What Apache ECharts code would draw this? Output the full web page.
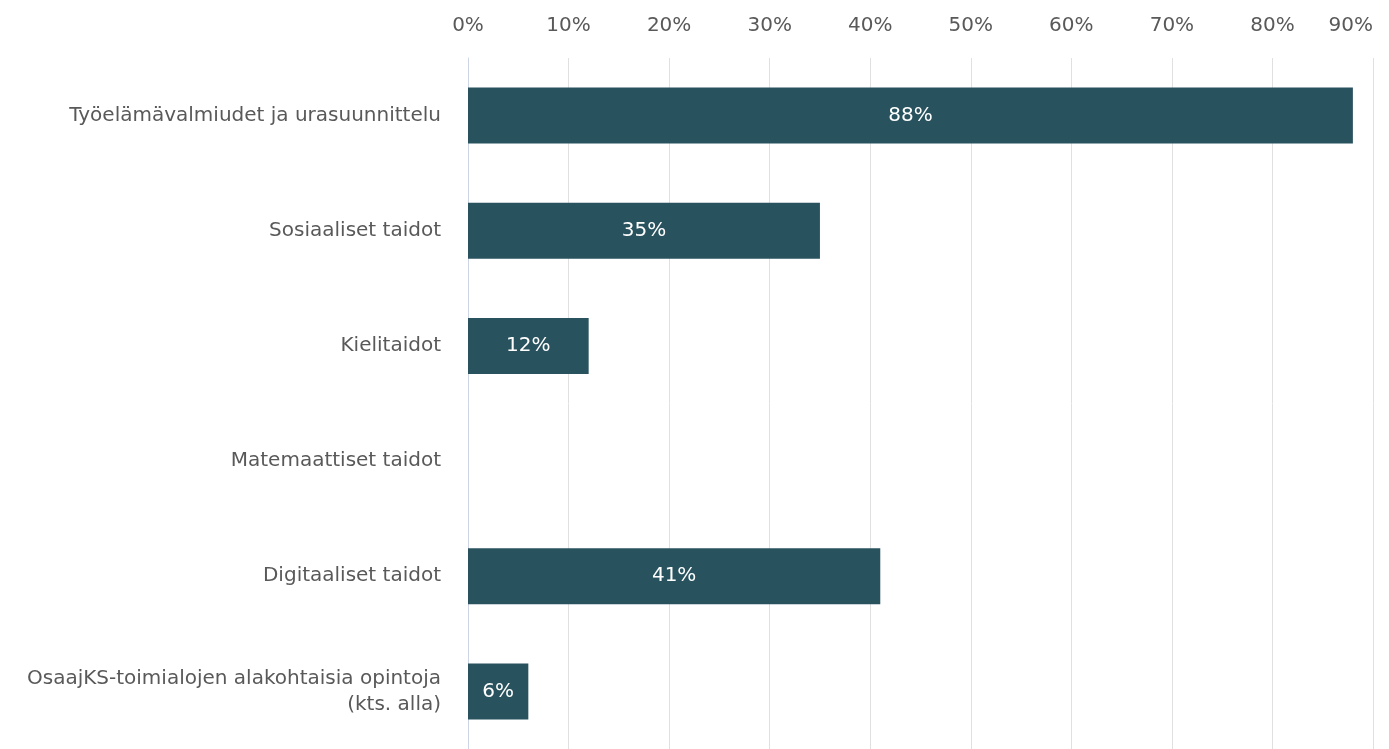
<!DOCTYPE html>
<html>
<head>
<meta charset="utf-8">
<script src="https://cdn.jsdelivr.net/npm/echarts@6/dist/echarts.min.js"></script>
<style>
html, body { margin: 0; padding: 0; background: #fff; }
#chart { width: 1389px; height: 749px; }
</style>
</head>
<body>
<div id="chart"></div>
<script>
const categories = [
    'Työelämävalmiudet ja urasuunnittelu',
    'Sosiaaliset taidot',
    'Kielitaidot',
    'Matemaattiset taidot',
    'Digitaaliset taidot',
    'OsaajKS-toimialojen alakohtaisia opintoja\n(kts. alla)'
]
const values = [88, 35, 12, 0, 41, 6]
const axisTicks = [0, 10, 20, 30, 40, 50, 60, 70, 80, 90]

let myChart = echarts.init(document.getElementById('chart'))
let option = {
    animation: false,
    textStyle: {
        fontFamily: 'DejaVu Sans, sans-serif'
    },
    grid: {
        left: 468,
        right: 16,
        top: 58,
        height: 695
    },
    xAxis: {
        type: 'value',
        position: 'top',
        min: axisTicks[0],
        max: axisTicks[axisTicks.length - 1],
        interval: 10,
        axisLine: { show: false },
        axisTick: { show: false },
        axisLabel: {
            formatter: '{value}%',
            color: '#595959',
            fontSize: 20,
            margin: 22,
            alignMaxLabel: 'right'
        },
        splitLine: {
            lineStyle: { color: '#e0e0e0', width: 1 }
        }
    },
    yAxis: {
        type: 'category',
        data: categories,
        inverse: true,
        axisTick: { show: false },
        axisLine: {
            show: true,
            lineStyle: { color: '#cdd5e6', width: 1 }
        },
        axisLabel: {
            color: '#595959',
            fontSize: 20,
            margin: 27,
            lineHeight: 26,
            align: 'right'
        }
    },
    series: [
        {
            type: 'bar',
            data: values,
            barWidth: 56,
            itemStyle: { color: '#29525f' },
            label: {
                show: true,
                position: 'inside',
                color: '#ffffff',
                fontSize: 20,
                formatter: p => (p.value > 0 ? p.value + '%' : '')
            }
        }
    ]
}
myChart.setOption(option)
window.addEventListener('resize', function () {
    myChart.resize()
})
</script>
</body>
</html>
